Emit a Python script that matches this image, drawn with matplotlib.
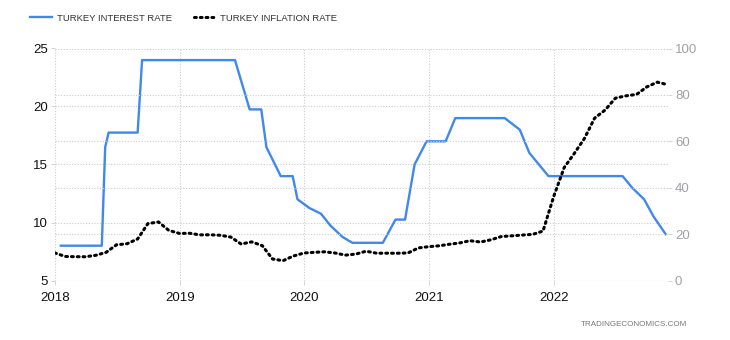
import matplotlib
matplotlib.use("Agg")
import matplotlib.pyplot as plt
import matplotlib.dates as mdates
import pandas as pd

# interest rate: points (date, %)
rate_dates = ["2018-01-18", "2018-05-18", "2018-05-28", "2018-06-07", "2018-08-31",
              "2018-09-13", "2019-06-12", "2019-07-25", "2019-08-28", "2019-09-12",
              "2019-10-24", "2019-11-28", "2019-12-12", "2020-01-16", "2020-02-19",
              "2020-03-17", "2020-04-22", "2020-05-21", "2020-08-18", "2020-09-24",
              "2020-10-22", "2020-11-19", "2020-12-24", "2021-02-18", "2021-03-18",
              "2021-08-10", "2021-09-23", "2021-10-21", "2021-11-18", "2021-12-16",
              "2022-07-21", "2022-08-18", "2022-09-22", "2022-10-20", "2022-11-24"]
rate_values = [8, 8, 16.5, 17.75, 17.75,
               24, 24, 19.75, 19.75, 16.5,
               14, 14, 12, 11.25, 10.75,
               9.75, 8.75, 8.25, 8.25, 10.25,
               10.25, 15, 17, 17, 19,
               19, 18, 16, 15, 14,
               14, 13, 12, 10.5, 9]

# inflation rate, month end, Dec 2017 .. Nov 2022
infl_values = [11.92,
               10.35, 10.26, 10.23, 10.85, 12.15, 15.39, 15.85, 17.90, 24.52, 25.24, 21.62, 20.30,
               20.35, 19.67, 19.71, 19.50, 18.71, 15.72, 16.65, 15.01, 9.26, 8.55, 10.56, 11.84,
               12.15, 12.37, 11.86, 10.94, 11.39, 12.62, 11.76, 11.77, 11.75, 11.89, 14.03, 14.60,
               14.97, 15.61, 16.19, 17.14, 16.59, 17.53, 18.95, 19.25, 19.58, 19.89, 21.31, 36.08,
               48.69, 54.44, 61.14, 69.97, 73.50, 78.62, 79.60, 80.21, 83.45, 85.51, 84.39]
infl_dates = pd.date_range("2017-12-31", periods=len(infl_values), freq="ME")

years = ["2018", "2019", "2020", "2021", "2022"]
left_ticks = [5, 10, 15, 20, 25]
right_ticks = [0, 20, 40, 60, 80, 100]

blue = "#4188ec"
grid_c = "#cccccc"
plt.rcParams["font.family"] = ["Liberation Sans", "DejaVu Sans"]

fig = plt.figure(figsize=(7.3, 3.4), dpi=100)
ax = fig.add_axes([55 / 730, 1 - 280.5 / 340, 613 / 730, 232 / 340])
ax2 = ax.twinx()

# grid
for a in (ax, ax2):
    for s in a.spines.values():
        s.set_visible(False)
ax.grid(True, axis="both", color=grid_c, linestyle=(0, (1, 1.5)), linewidth=0.8)
ax2.grid(True, axis="y", color=grid_c, linestyle=(0, (1, 1.5)), linewidth=0.8)
ax.set_axisbelow(True)
ax2.set_axisbelow(True)

l1, = ax.plot(pd.to_datetime(rate_dates), rate_values, color=blue, lw=1.7, zorder=3)
l2, = ax2.plot(infl_dates, infl_values, color="black", lw=2.2,
               linestyle=(0, (0.6, 1.3)), dash_capstyle="round", zorder=3)

ax.set_xlim(pd.Timestamp("2018-01-01"), pd.Timestamp("2022-12-01"))
ax.set_ylim(5, 25)
ax2.set_ylim(0, 100)
ax.set_yticks(left_ticks)
ax2.set_yticks(right_ticks)
ax.set_xticks(pd.to_datetime([y + "-01-01" for y in years]))
ax.xaxis.set_major_formatter(mdates.DateFormatter("%Y"))

ax.tick_params(axis="y", length=3, width=0.6, color=grid_c, pad=2, labelsize=9.5, labelcolor="#111111")
ax.tick_params(axis="x", length=3, width=0.6, color=grid_c, pad=5, labelsize=9.5, labelcolor="#111111")
ax2.tick_params(axis="y", length=3, width=0.6, color=grid_c, pad=2, labelsize=9.5, labelcolor="#a0a0a8")

fig.legend([l1, l2], ["TURKEY INTEREST RATE", "TURKEY INFLATION RATE"],
           loc="upper left", bbox_to_anchor=(0.03, 0.985), ncol=2, frameon=False,
           fontsize=6.8, handlelength=2.3, handletextpad=0.5, columnspacing=2.3,
           labelcolor="#333333")

fig.text(687 / 730, 1 - 324 / 340, "TRADINGECONOMICS.COM", ha="right", va="center",
         fontsize=5.8, color="#777777")

fig.savefig("out.png", dpi=100)
